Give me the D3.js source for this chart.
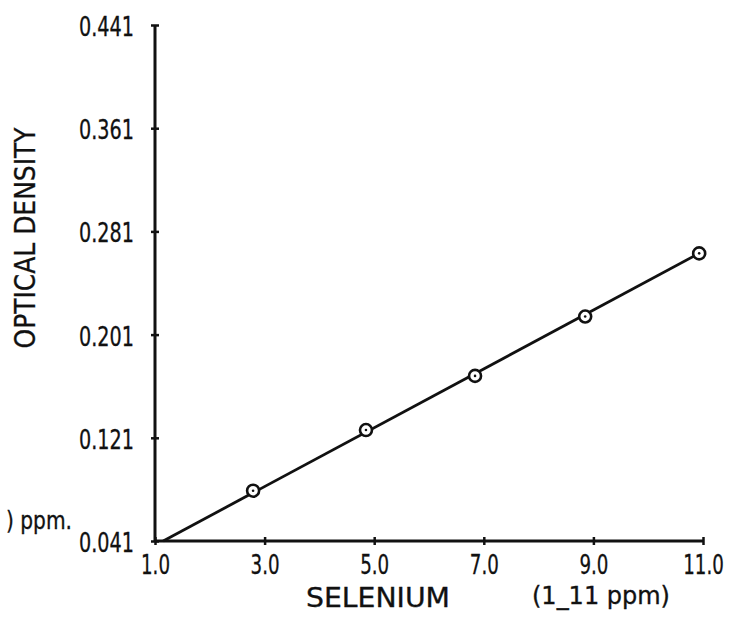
<!DOCTYPE html>
<html>
<head>
<meta charset="utf-8">
<script src="https://cdn.jsdelivr.net/npm/d3@7"></script>
<style>
  body { margin: 0; background: #fff; }
  svg text { font-family: "DejaVu Sans Condensed", "DejaVu Sans", sans-serif; fill: #111; stroke: #111; stroke-width: 0.3px; }
</style>
</head>
<body>
<svg id="chart"></svg>
<script>
// selenium calibration data
var selenium = [2.79, 4.85, 6.84, 8.85, 10.93];
var density = [0.080, 0.127, 0.169, 0.215, 0.264];

// fitted straight line end points
var fitX = [1.15, 10.93];
var fitY = [0.041, 0.264];

var xTicks = [1, 3, 5, 7, 9, 11];
var xTickLabels = ["1.0", "3.0", "5.0", "7.0", "9.0", "11.0"];
var yTicks = [0.041, 0.121, 0.201, 0.281, 0.361, 0.441];
var yTickLabels = ["0.041", "0.121", "0.201", "0.281", "0.361", "0.441"];

var svgWidth = 734, svgHeight = 622;

var svg = d3.select('#chart')
    .attr("width", svgWidth)
    .attr("height", svgHeight);

var xScale = d3.scaleLinear()
    .domain([1, 11])
    .range([155, 703]);

var yScale = d3.scaleLinear()
    .domain([0.041, 0.441])
    .range([541, 25]);

var x_axis = d3.axisBottom(xScale)
    .tickValues(xTicks)
    .tickFormat(function (d, i) { return xTickLabels[i]; })
    .tickSize(4)
    .tickPadding(11);

var y_axis = d3.axisLeft(yScale)
    .tickValues(yTicks)
    .tickFormat(function (d, i) { return yTickLabels[i]; })
    .tickSize(4)
    .tickPadding(17);

// squeeze labels so they look like the narrow lettering of the scan
function squeeze(sel, ratio) {
    sel.each(function () {
        var w = this.getComputedTextLength();
        d3.select(this)
            .attr("textLength", w * ratio)
            .attr("lengthAdjust", "spacingAndGlyphs");
    });
}

var gx = svg.append("g")
    .attr("transform", "translate(0," + yScale(0.041) + ")")
    .call(x_axis);
gx.select(".domain").attr("d", "M" + xScale(1) + ",0H" + xScale(11))
    .attr("stroke", "#111").attr("stroke-width", 3);
gx.selectAll(".tick line").attr("y1", -4).attr("stroke", "#111").attr("stroke-width", 2.5);
var xt = gx.selectAll(".tick text")
    .attr("font-size", 26)
    .attr("fill", "#111");
var xRatio = 29 / xt.filter(function (d) { return d === 3; }).node().getComputedTextLength();
squeeze(xt, xRatio);

var gy = svg.append("g")
    .attr("transform", "translate(" + xScale(1) + ",0)")
    .call(y_axis);
gy.select(".domain").attr("d", "M0," + yScale(0.041) + "V" + yScale(0.441))
    .attr("stroke", "#111").attr("stroke-width", 3);
gy.selectAll(".tick line").attr("x2", 4).attr("x1", -4).attr("stroke", "#111").attr("stroke-width", 2.5);
var yt = gy.selectAll(".tick text")
    .attr("font-size", 26)
    .attr("dy", "0.4em")
    .attr("fill", "#111");
var yRatio = 55 / yt.filter(function (d) { return d === 0.441; }).node().getComputedTextLength();
squeeze(yt, yRatio);

// fitted line
var line = d3.line()
    .x(function (d) { return xScale(d[0]); })
    .y(function (d) { return yScale(d[1]); });

svg.append("path")
    .datum(d3.zip(fitX, fitY))
    .attr("d", line)
    .attr("fill", "none")
    .attr("stroke", "#111")
    .attr("stroke-width", 2.8);

// measured points: open circles with a dot
var pts = svg.selectAll(".pt")
    .data(d3.zip(selenium, density))
    .enter()
    .append("g")
    .attr("class", "pt")
    .attr("transform", function (d) {
        return "translate(" + xScale(d[0]) + "," + yScale(d[1]) + ")";
    });
pts.append("circle")
    .attr("r", 6)
    .attr("fill", "#fff")
    .attr("stroke", "#111")
    .attr("stroke-width", 2.6);
pts.append("circle")
    .attr("r", 1.3)
    .attr("fill", "#111");

// labels
svg.append("text")
    .attr("transform", "translate(35,238) rotate(-90)")
    .attr("text-anchor", "middle")
    .attr("font-size", 29)
    .attr("textLength", 221)
    .attr("lengthAdjust", "spacingAndGlyphs")
    .text("OPTICAL DENSITY");

svg.append("text")
    .attr("x", 378)
    .attr("y", 607)
    .attr("text-anchor", "middle")
    .attr("font-size", 26)
    .attr("textLength", 144)
    .attr("lengthAdjust", "spacingAndGlyphs")
    .text("SELENIUM");

svg.append("text")
    .attr("x", 601)
    .attr("y", 604)
    .attr("text-anchor", "middle")
    .attr("font-size", 24)
    .attr("textLength", 138)
    .attr("lengthAdjust", "spacingAndGlyphs")
    .text("(1_11 ppm)");

svg.append("text")
    .attr("x", 6)
    .attr("y", 529)
    .attr("font-size", 24)
    .attr("textLength", 66)
    .attr("lengthAdjust", "spacingAndGlyphs")
    .text(") ppm.");
</script>
</body>
</html>
